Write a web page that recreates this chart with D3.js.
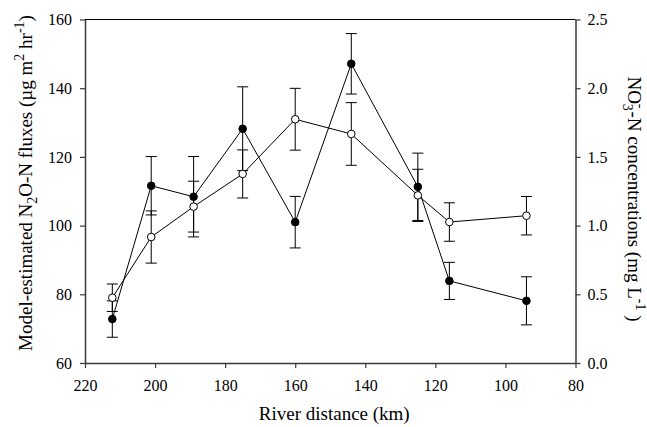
<!DOCTYPE html>
<html>
<head>
<meta charset="utf-8">
<script src="https://cdn.jsdelivr.net/npm/d3@7"></script>
</head>
<body style="margin:0">
<svg id="chart" width="647" height="427" font-family="Liberation Serif"></svg>
<script>
// river distance (km) for each sampling site
const distance = [212.2, 201.1, 189.0, 175.0, 160.0, 144.0, 125.0, 116.0, 94.0];
// model-estimated N2O-N fluxes (left axis), filled circles
const n2oFlux = [72.8, 111.6, 108.4, 128.2, 101.0, 147.1, 111.3, 83.9, 78.1];
const n2oErr = [5.3, 8.5, 11.7, 12.2, 7.5, 8.8, 9.8, 5.4, 7.0];
// NO3-N concentrations (right axis), open circles
const no3Conc = [0.475, 0.917, 1.138, 1.376, 1.774, 1.667, 1.220, 1.026, 1.072];
const no3Err = [0.10, 0.19, 0.185, 0.175, 0.225, 0.228, 0.19, 0.14, 0.14];

const xTicks = [220, 200, 180, 160, 140, 120, 100, 80];
const yLeftTicks = [60, 80, 100, 120, 140, 160];
const yRightTicks = [0, 0.5, 1.0, 1.5, 2.0, 2.5];

const fontName = 'Liberation Serif';

const svg = d3.select('#chart');
const margin = { top: 19.5, right: 71.5, bottom: 64, left: 85 };
const width = 647 - margin.left - margin.right;
const height = 427 - margin.top - margin.bottom;

const x = d3.scaleLinear().domain([220, 80]).range([0, width]);
const yL = d3.scaleLinear().domain([60, 160]).range([height, 0]);
const yR = d3.scaleLinear().domain([0, 2.5]).range([height, 0]);

const g = svg.append('g').attr('transform', `translate(${margin.left},${margin.top})`);

const axisColor = '#3a3a3a';

// top frame line
g.append('line')
  .attr('x1', 0).attr('x2', width).attr('y1', 0).attr('y2', 0)
  .attr('stroke', '#000').attr('stroke-width', 1);

// axes
const xAxis = g.append('g')
  .attr('transform', `translate(0,${height})`)
  .call(d3.axisBottom(x).tickValues(xTicks).tickSize(5).tickSizeOuter(0).tickPadding(12));

const yAxisL = g.append('g')
  .call(d3.axisLeft(yL).tickValues(yLeftTicks).tickSize(5).tickSizeOuter(0).tickPadding(8));

const yAxisR = g.append('g')
  .attr('transform', `translate(${width},0)`)
  .call(d3.axisRight(yR).tickValues(yRightTicks).tickFormat(d3.format('.1f'))
    .tickSize(5).tickSizeOuter(0).tickPadding(7));

[xAxis, yAxisL, yAxisR].forEach(a => {
  a.attr('font-family', fontName).attr('font-size', 16);
  a.select('.domain').attr('stroke', axisColor).attr('stroke-width', 1.5);
  a.selectAll('.tick line').attr('stroke', axisColor).attr('stroke-width', 1.2);
  a.selectAll('.tick text').attr('fill', '#000').attr('font-family', fontName);
});

// draw one series with error bars
function drawSeries(vals, errs, yScale, fill) {
  const pts = distance.map((d, i) => ({ d, v: vals[i], e: errs[i] }));
  const s = g.append('g');
  const cap = 5.5;

  const eb = s.selectAll('g.err').data(pts).join('g').attr('class', 'err')
    .attr('stroke', '#000').attr('stroke-width', 1);
  eb.append('line')
    .attr('x1', p => x(p.d)).attr('x2', p => x(p.d))
    .attr('y1', p => yScale(p.v + p.e)).attr('y2', p => yScale(p.v - p.e));
  eb.append('line')
    .attr('x1', p => x(p.d) - cap).attr('x2', p => x(p.d) + cap)
    .attr('y1', p => yScale(p.v + p.e)).attr('y2', p => yScale(p.v + p.e));
  eb.append('line')
    .attr('x1', p => x(p.d) - cap).attr('x2', p => x(p.d) + cap)
    .attr('y1', p => yScale(p.v - p.e)).attr('y2', p => yScale(p.v - p.e));

  s.append('path')
    .datum(pts)
    .attr('fill', 'none')
    .attr('stroke', '#000')
    .attr('stroke-width', 1)
    .attr('d', d3.line().x(p => x(p.d)).y(p => yScale(p.v)));

  s.selectAll('circle').data(pts).join('circle')
    .attr('cx', p => x(p.d)).attr('cy', p => yScale(p.v))
    .attr('r', 3.8)
    .attr('fill', fill)
    .attr('stroke', '#000')
    .attr('stroke-width', 1);
}

drawSeries(n2oFlux, n2oErr, yL, '#000');
drawSeries(no3Conc, no3Err, yR, '#fff');

// axis titles
svg.append('text')
  .attr('x', margin.left + width / 2 + 4)
  .attr('y', 420)
  .attr('text-anchor', 'middle')
  .attr('font-family', fontName)
  .attr('font-size', 19)
  .text('River distance (km)');

const leftTitle = svg.append('text')
  .attr('transform', 'translate(32,183) rotate(-90)')
  .attr('text-anchor', 'middle')
  .attr('font-family', fontName)
  .attr('font-size', 19);
leftTitle.append('tspan').text('Model-estimated N');
leftTitle.append('tspan').attr('dy', 5).attr('font-size', 14).text('2');
leftTitle.append('tspan').attr('dy', -5).text('O-N fluxes (\u00b5g m');
leftTitle.append('tspan').attr('dy', -8).attr('font-size', 14).text('2');
leftTitle.append('tspan').attr('dy', 8).text(' hr');
leftTitle.append('tspan').attr('dy', -8).attr('font-size', 14).text('-1');
leftTitle.append('tspan').attr('dy', 8).text(')');

const rightTitle = svg.append('text')
  .attr('transform', 'translate(628,199) rotate(90)')
  .attr('text-anchor', 'middle')
  .attr('font-family', fontName)
  .attr('font-size', 19);
rightTitle.append('tspan').text('NO');
rightTitle.append('tspan').attr('dy', 5).attr('font-size', 14).text('3');
rightTitle.append('tspan').attr('dx', -7).attr('dy', -13).attr('font-size', 14).text('-');
rightTitle.append('tspan').attr('dx', 3).attr('dy', 8).text('-N concentrations (mg L');
rightTitle.append('tspan').attr('dy', -8).attr('font-size', 14).text('-1');
rightTitle.append('tspan').attr('dy', 8).text(' )');
</script>
</body>
</html>
